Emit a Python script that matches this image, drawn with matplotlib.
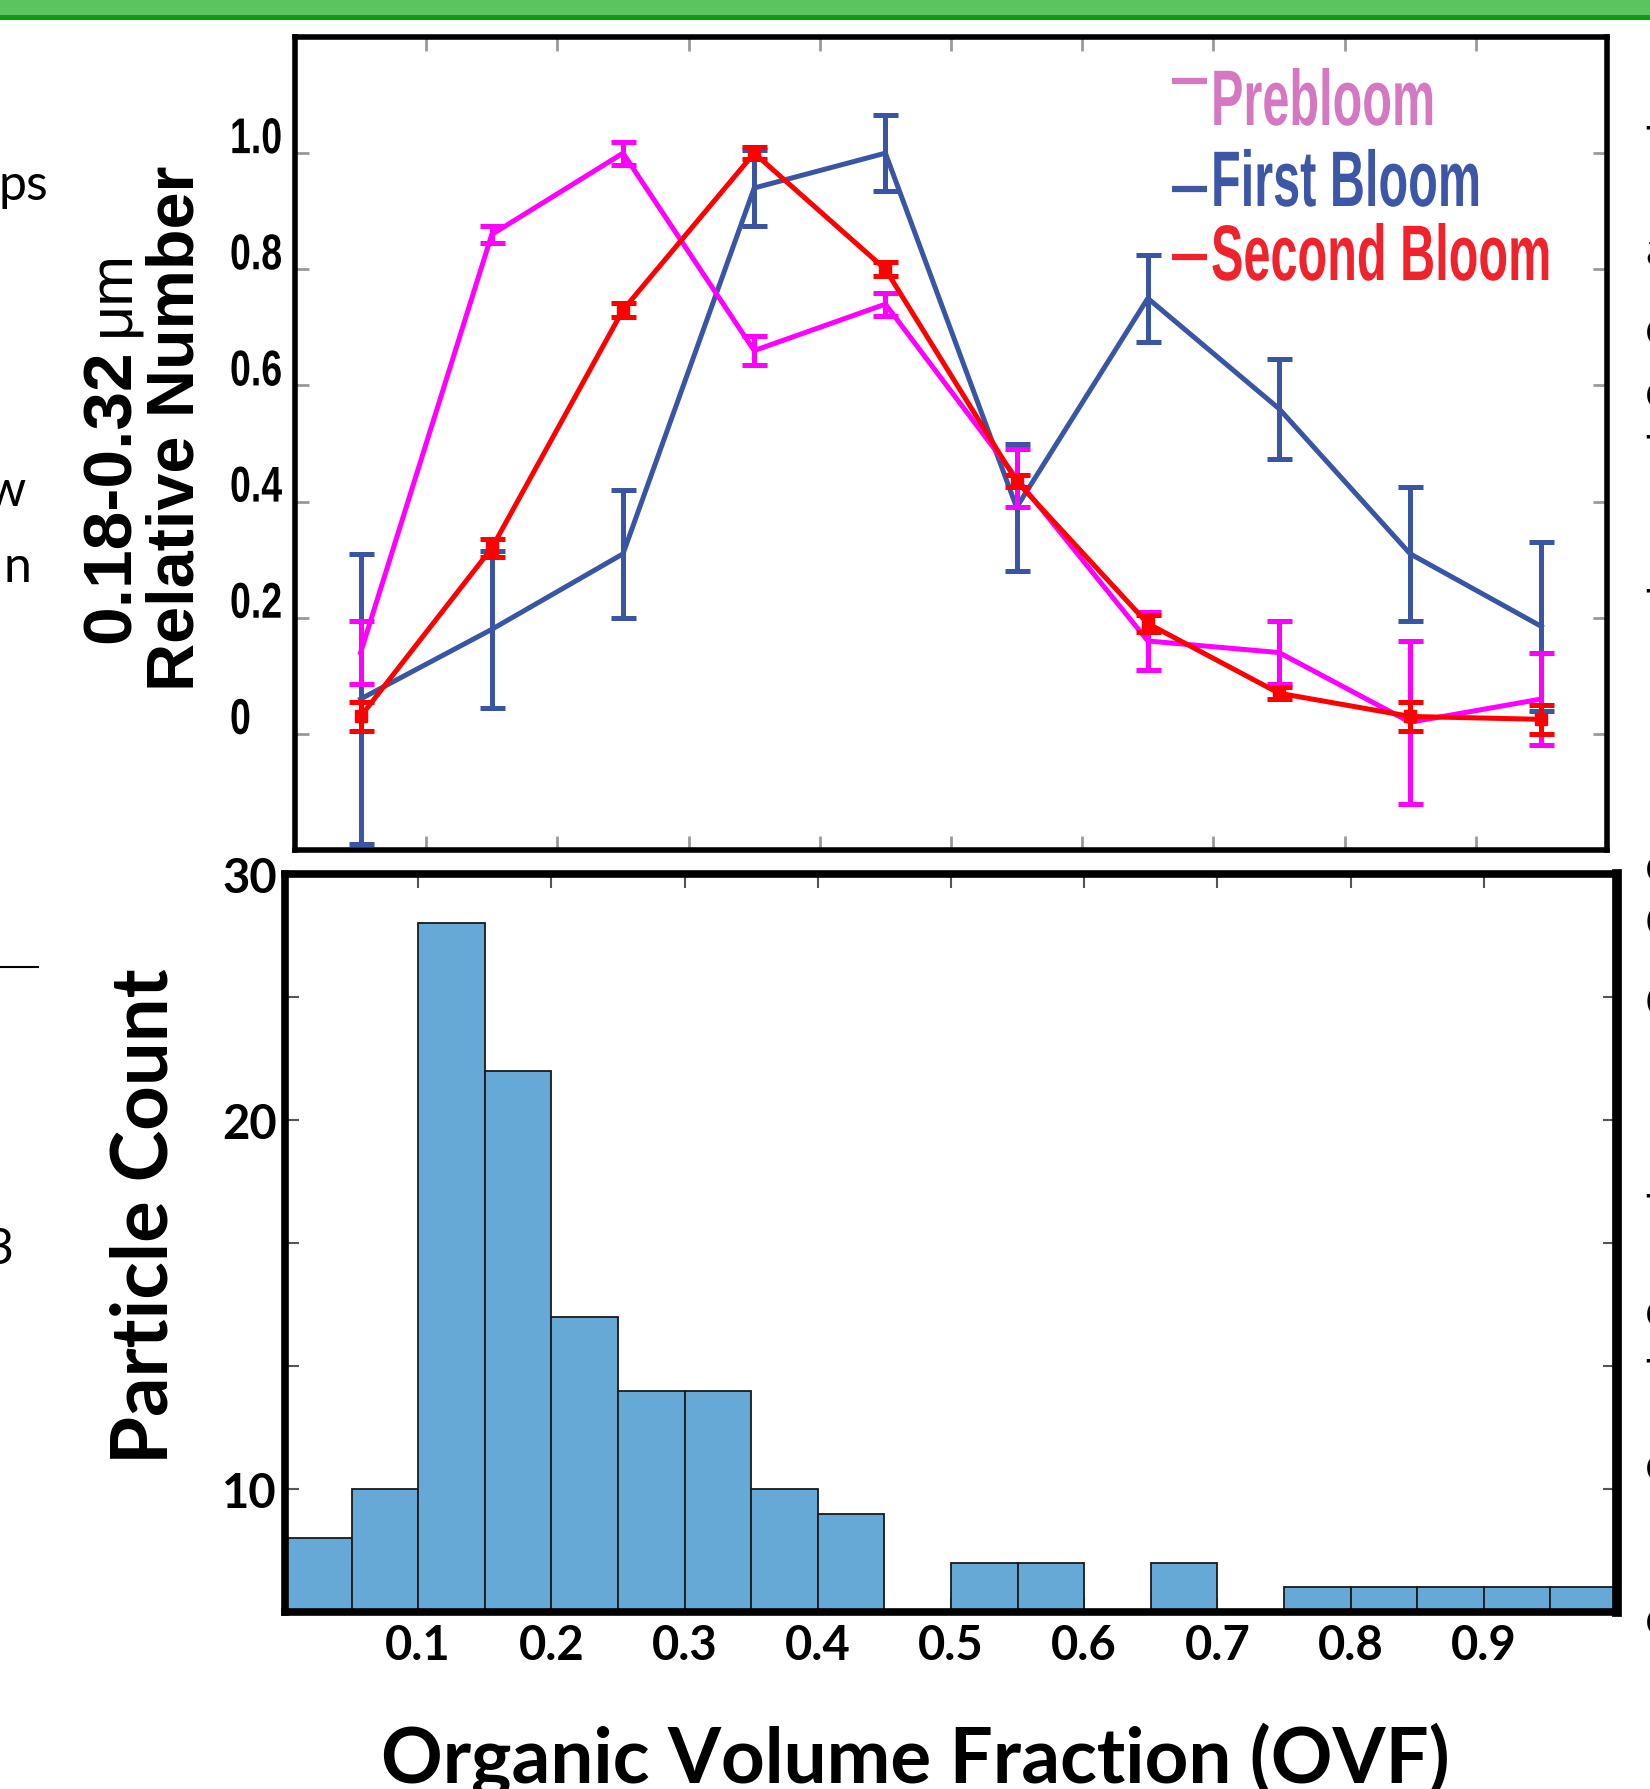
import matplotlib
matplotlib.use("Agg")
import matplotlib.pyplot as plt
from matplotlib.lines import Line2D
from matplotlib.patches import Rectangle
from matplotlib.patheffects import AbstractPathEffect
from matplotlib.transforms import Affine2D, blended_transform_factory
import numpy as np

# ---------------- data ----------------
ovf_mid = [0.05, 0.15, 0.25, 0.35, 0.45, 0.55, 0.65, 0.75, 0.85, 0.95]
prebloom = [0.14, 0.86, 1.00, 0.66, 0.74, 0.44, 0.16, 0.14, 0.02, 0.06]
prebloom_err = [0.055, 0.015, 0.02, 0.025, 0.02, 0.05, 0.05, 0.055, 0.14, 0.08]
first_bloom = [0.06, 0.18, 0.31, 0.94, 1.00, 0.39, 0.75, 0.56, 0.31, 0.185]
first_bloom_err = [0.25, 0.135, 0.11, 0.065, 0.065, 0.11, 0.075, 0.086, 0.115, 0.145]
second_bloom = [0.03, 0.32, 0.73, 1.00, 0.80, 0.435, 0.19, 0.07, 0.03, 0.025]
second_bloom_err = [0.025, 0.015, 0.012, 0.01, 0.012, 0.01, 0.015, 0.01, 0.025, 0.025]
series_names = ["Prebloom", "First Bloom", "Second Bloom"]

top_yticks = [0, 0.2, 0.4, 0.6, 0.8, 1.0]
top_yticklabels = ["0", "0.2", "0.4", "0.6", "0.8", "1.0"]
xticks = [0.1, 0.2, 0.3, 0.4, 0.5, 0.6, 0.7, 0.8, 0.9]
xticklabels = ["0.1", "0.2", "0.3", "0.4", "0.5", "0.6", "0.7", "0.8", "0.9"]

bin_edges = [0.0, 0.05, 0.10, 0.15, 0.20, 0.25, 0.30, 0.35, 0.40, 0.45, 0.50,
             0.55, 0.60, 0.65, 0.70, 0.75, 0.80, 0.85, 0.90, 0.95, 1.00]
particle_counts = [3, 5, 28, 22, 12, 9, 9, 5, 4, 0, 2, 2, 0, 2, 0, 1, 1, 1, 1, 1]
hist_yticks = [5, 10, 15, 20, 25, 30]
hist_yticklabels = ["10", "", "", "20", "", "30"]


class Stretch(AbstractPathEffect):
    """Stretch glyphs about the text origin (text stays a Text object)."""
    def __init__(self, sx=1.0, sy=1.0):
        super().__init__()
        self.sx, self.sy = sx, sy

    def draw_path(self, renderer, gc, tpath, affine, rgbFace=None):
        renderer.draw_path(gc, tpath, Affine2D().scale(self.sx, self.sy) + affine, rgbFace)


# ---------------- figure ----------------
W, H = 1650, 1790
fig = plt.figure(figsize=(W / 100, H / 100), dpi=100)

ARIAL = ["Liberation Sans", "DejaVu Sans"]
CAL = ["Lato", "Open Sans", "DejaVu Sans"]

# green header strip
fig.patches.append(Rectangle((0, 1 - 16 / H), 1, 16 / H, transform=fig.transFigure,
                             facecolor="#5cc45e", edgecolor="none", zorder=0))
fig.patches.append(Rectangle((0, 1 - 21 / H), 1, 5 / H, transform=fig.transFigure,
                             facecolor="#0f9a12", edgecolor="none", zorder=0))

# ---------------- top panel ----------------
ax1 = fig.add_axes([295 / W, 1 - 851 / H, (1607 - 295) / W, (851 - 38) / H])
c_pre, c_first, c_second = "#ff00ff", "#3b55a5", "#ff0000"
ekw = dict(linewidth=3.6, elinewidth=3.6, capsize=9, capthick=3.6)
ax1.errorbar(ovf_mid, first_bloom, yerr=first_bloom_err, color=c_first, zorder=3, **ekw)
ax1.errorbar(ovf_mid, prebloom, yerr=prebloom_err, color=c_pre, zorder=4, **ekw)
ax1.errorbar(ovf_mid, second_bloom, yerr=second_bloom_err, color=c_second, zorder=5,
             marker="s", markersize=8, **ekw)
ax1.set_xlim(0, 1)
ax1.set_ylim(-0.2, 1.2)
ax1.set_xticks(xticks)
ax1.set_xticklabels([])
ax1.set_yticks(top_yticks)
ax1.set_yticklabels([])
ax1.tick_params(axis="both", direction="in", length=10, width=2, color="#9a9a9a",
                top=True, right=True)
for sp in ax1.spines.values():
    sp.set_linewidth(4)
    sp.set_color("black")

# tall, condensed tick labels sitting just above each tick (as in the original)
ytrans = blended_transform_factory(ax1.transAxes, ax1.transData)
for v, lab in zip(top_yticks, top_yticklabels):
    t = ax1.text((230 - 295) / (1607 - 295), v, lab, transform=ytrans, ha="left",
                 va="baseline", fontsize=27, fontweight="bold", fontfamily=ARIAL)
    t.set_path_effects([Stretch(1.0, 1.34)])

# legend (condensed tall lettering)
leg_colors = ["#d479c1", "#3d56a6", "#f0232d"]
leg_base_y = [126, 207, 281]
leg_dash_y = [82, 190, 258]
for name, col, yb, yd in zip(series_names, leg_colors, leg_base_y, leg_dash_y):
    t = fig.text(1211 / W, 1 - yb / H, name, ha="left", va="baseline", color=col,
                 fontsize=35, fontweight="bold", fontfamily=ARIAL)
    t.set_path_effects([Stretch(1.0, 1.62)])
    fig.add_artist(Line2D([1172 / W, 1207 / W], [1 - yd / H, 1 - yd / H],
                          transform=fig.transFigure, color=col, lw=4.5,
                          solid_capstyle="butt"))

fig.text(112 / W, 1 - 643 / H, "0.18-0.32", rotation=90, ha="center", va="bottom",
         fontsize=50, fontweight="bold", fontfamily=ARIAL)
fig.text(114 / W, 1 - 336 / H, "\u03bcm", rotation=90, ha="center", va="bottom",
         fontsize=44, fontfamily=ARIAL)
fig.text(177 / W, 1 - 428 / H, "Relative Number", rotation=90, ha="center", va="center",
         fontsize=48, fontweight="bold", fontfamily=ARIAL)

# ---------------- bottom panel ----------------
ax2 = fig.add_axes([285 / W, 1 - 1613 / H, (1617 - 285) / W, (1613 - 875) / H])
ax2.bar(bin_edges[:-1], particle_counts, width=np.diff(bin_edges), align="edge",
        color="#67a9d6", edgecolor="#1a1a1a", linewidth=1.3, zorder=2)
ax2.set_xlim(0, 1)
ax2.set_ylim(0, 30)
ax2.set_xticks(xticks)
ax2.set_xticklabels(xticklabels, fontfamily=CAL, fontweight="bold", fontsize=34)
ax2.set_yticks(hist_yticks)
ax2.set_yticklabels(hist_yticklabels, fontfamily=CAL, fontweight="bold", fontsize=34)
ax2.tick_params(axis="both", direction="in", length=10, width=1.5, color="#555555",
                top=True, right=True, pad=8)
ax2.tick_params(axis="y", pad=6)
for sp in ax2.spines.values():
    sp.set_linewidth(5.5)
    sp.set_color("black")
    sp.set_zorder(5)
ax2.spines["right"].set_linewidth(7)

fig.text(146 / W, 1 - 1216 / H, "Particle Count", rotation=90, ha="center", va="center",
         fontsize=56, fontweight="bold", fontfamily=CAL)
fig.text(915 / W, 1 - 1760 / H, "Organic Volume Fraction (OVF)", ha="center", va="center",
         fontsize=55, fontweight="bold", fontfamily=CAL)

# ---------------- slide remnants at the edges ----------------
left_frag = [(48, 186, "ps"), (25, 492, "w"), (31, 568, "n"), (14, 1250, "3")]
for xr, yc, s in left_frag:
    fig.text(xr / W, 1 - yc / H, s, ha="right", va="center", fontsize=36, fontfamily=CAL)
fig.add_artist(Line2D([0, 38 / W], [1 - 968 / H, 1 - 968 / H], transform=fig.transFigure,
                      color="black", lw=1.5))
right_frag = [(148, "T"), (251, "a"), (331, "c"), (394, "c"), (457, "T"), (611, "T"),
              (868, "c"), (925, "C"), (1005, "C"), (1216, "T"), (1313, "c"), (1381, "T"),
              (1467, "c"), (1621, "c")]
for yc, s in right_frag:
    fig.text(1645 / W, 1 - yc / H, s, ha="left", va="center", fontsize=36, fontfamily=CAL)

fig.savefig("out.png", dpi=100)
